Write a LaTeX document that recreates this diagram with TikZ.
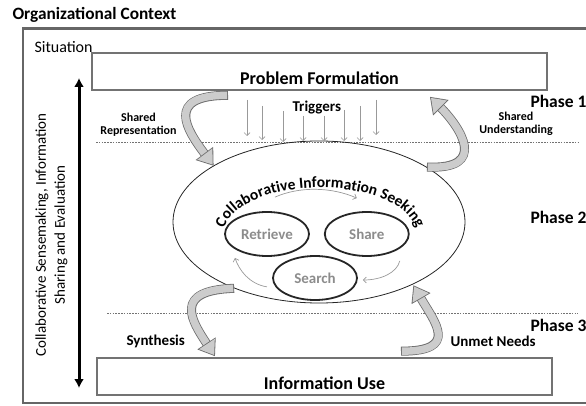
\documentclass[tikz,border=0pt]{standalone}
\usepackage{fontspec}
\setmainfont{Carlito}
\usetikzlibrary{arrows.meta, positioning, shapes.geometric, decorations.markings, decorations.text}

\definecolor{bandedge}{gray}{0.42}
\definecolor{bandfill}{gray}{0.80}
\newcommand{\seekfont}{\bfseries\fontsize{15.5}{18}\selectfont}

\begin{document}
\begin{tikzpicture}[x=1pt, y=-1pt,
        stagebox/.style={draw=black!55, line width=1.6pt, minimum width=455pt, minimum height=37pt, inner sep=2pt, text depth=0pt, font=\bfseries\fontsize{18}{20}\selectfont},
        seekbox/.style={ellipse, draw=black!85, line width=0.8pt, minimum width=292pt, minimum height=162pt},
        actbox/.style={ellipse, draw=black!85, line width=1.8pt, minimum width=84pt, minimum height=44pt, inner sep=1pt, text=black!45, font=\bfseries\fontsize{15}{18}\selectfont},
        phase/.style={anchor=base west, font=\bfseries\fontsize{17.5}{20}\selectfont},
        flowlabel/.style={anchor=base west, font=\bfseries\fontsize{15}{18}\selectfont},
        sharelabel/.style={align=center, font=\bfseries\fontsize{12}{13}\selectfont},
        phaseline/.style={draw=black!55, line width=0.6pt, dash pattern=on 1.6pt off 1.2pt},
        cue/.style={draw=black!40, line width=0.7pt, -{Straight Barb[length=3pt,width=6pt]}},
        bigflow/.style={draw=bandedge, line width=9pt,
            postaction={draw=bandfill, line width=7.4pt, shorten <=0.9pt},
            postaction={decorate, decoration={markings, mark=at position 0.999 with {
                \fill[bandedge] (-0.8,11) -- (14.5,0) -- (-0.8,-11) -- cycle;
                \fill[bandfill] (0,9.4) -- (13.1,0) -- (0,-9.4) -- cycle;}}}}
    ]
    \useasboundingbox (0,0) rectangle (586,406);

    % Outer context
    \draw[draw=black!60, line width=2.4pt] (23,28.5) rectangle (600,403);
    \node[anchor=base west, font=\bfseries\fontsize{17.3}{20}\selectfont] (orgctx) at (9,20) {Organizational Context};
    \node[anchor=base west, font=\fontsize{16}{18}\selectfont] (situation) at (31,53) {Situation};

    % Stages
    \node[stagebox, text height=27pt] (problem) at (319.5,71.5) {Problem Formulation};
    \node[stagebox, text height=25pt] (infouse) at (324.5,376.5) {Information Use};

    % Phase borders
    \draw[phaseline] (96,142) -- (578,142);
    \draw[phaseline] (107,313) -- (578,313);
    \node[phase] (phase1) at (527,108) {Phase 1};
    \node[phase] (phase2) at (527,223) {Phase 2};
    \node[phase] (phase3) at (527,331) {Phase 3};

    % Left: sensemaking span
    \coordinate (spantop) at (79,78);
    \coordinate (spanbottom) at (79,388);
    \draw[line width=3pt, {Latex[length=9pt,width=10pt]}-{Latex[length=9pt,width=10pt]}] (spantop) -- (spanbottom);
    \node[rotate=90, align=center, font=\fontsize{15}{19}\selectfont] (sensemaking) at (51.5,235) {Collaborative Sensemaking, Information\\Sharing and Evaluation};

    % Middle: information seeking
    \node[seekbox] (seeking) at (319,222) {};
    \path[decorate, decoration={text along path, text={|\seekfont|Collaborative Information Seeking}, text align=center}]
        (222,235) .. controls (232,172) and (408,172) .. (418,235);
    \node[actbox] (retrieve) at (267,234) {Retrieve};
    \node[actbox, right=14pt of retrieve] (share) {Share};
    \node[actbox] (search) at (315,278) {Search};

    \draw[cue] ([shift={(8,-14)}]retrieve.north) .. controls +(25,-11) and +(-25,-11) .. ([shift={(-10,-13)}]share.north);
    \draw[cue] ([shift={(33,4)}]share.south) .. controls +(-3,12) and +(18,0) .. ([shift={(5,2)}]search.east);
    \draw[cue] ([shift={(-48,-14)}]search.south) .. controls +(-18,-3) and +(4,12) .. ([shift={(-32,1)}]retrieve.south);

    % Triggers
    \node[flowlabel] (triggers) at (289,112) {Triggers};
    \foreach \x/\ya/\yb in {247/100/136, 262/106/140, 283/111/142, 303/116/141, 324/116/141, 344/110/141, 360/106/141, 376/100/135}
        \draw[cue] (\x,\ya) -- (\x,\yb);

    % Big flows
    \draw[bigflow] ([shift={(-91.5,4.5)}]problem.south) .. controls +(-64,0) and +(-18,-24) .. ([shift={(-8.3,-11.6)}]seeking.152);
    \draw[bigflow] (seeking.27) .. controls +(61,3) and +(21,21) .. ([shift={(120.7,16.3)}]problem.south);
    \draw[bigflow] (seeking.218) .. controls +(-62,2) and +(-15.4,-23.4) .. ([shift={(-117.5,-13.1)}]infouse.north);
    \draw[bigflow] ([shift={(76.5,-6)}]infouse.north) .. controls +(59,0) and +(14,24.2) .. ([shift={(8.5,13)}]seeking.326);

    \node[sharelabel] (sharedrep) at (138.5,125) {Shared\\Representation};
    \node[sharelabel] (sharedund) at (516,124) {Shared\\Understanding};
    \node[flowlabel] (synthesis) at (123,345) {Synthesis};
    \node[flowlabel] (unmet) at (447,346) {Unmet Needs};

\end{tikzpicture}
\end{document}
